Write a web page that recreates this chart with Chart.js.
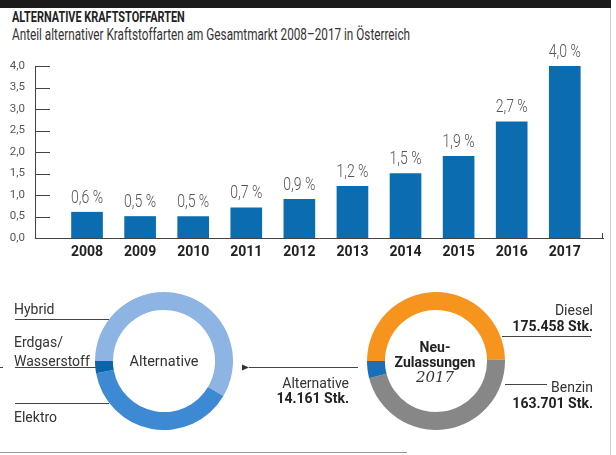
<!DOCTYPE html>
<html>
<head>
<meta charset="utf-8">
<script src="https://cdn.jsdelivr.net/npm/chart.js@4"></script>
<style>
  body { margin: 0; width: 616px; height: 455px; position: relative; background: #fff; overflow: hidden; font-family: Roboto, sans-serif; color: #333; }
  canvas { position: absolute; }
  .t { position: absolute; white-space: nowrap; line-height: 1; transform: translateY(-50%); font-size: 14px; }
  .b { font-weight: bold; color: #222; }
  .fit { transform-origin: 0 50%; }
  #frameTop { position: absolute; left: 0; top: 0; width: 611px; height: 8px; background: #1b1b1b; }
  #frameRight { position: absolute; left: 610px; top: 8px; width: 1px; height: 447px; background: #d0d0d0; }
  #frameBottom { position: absolute; left: 0; top: 452px; width: 407px; height: 1px; background: #999; }
  svg { position: absolute; left: 0; top: 0; }
</style>
</head>
<body>
<div id="frameTop"></div>
<div id="frameRight"></div>
<div id="frameBottom"></div>

<div class="t fit" data-w="173" style="left:12px;top:17px;font:bold 14px Roboto;color:#222">ALTERNATIVE KRAFTSTOFFARTEN</div>
<div class="t fit" data-w="398" style="left:12px;top:34px;font:16px Roboto;color:#333">Anteil alternativer Kraftstoffarten am Gesamtmarkt 2008–2017 in Österreich</div>

<canvas id="bars" width="616" height="230" style="left:0;top:40px"></canvas>
<canvas id="altRing" width="138" height="138" style="left:95px;top:292px"></canvas>
<canvas id="regRing" width="138" height="138" style="left:367px;top:292px"></canvas>

<svg width="616" height="455">
  <defs>
    <marker id="arr" markerWidth="8" markerHeight="8" refX="1" refY="4" orient="auto" markerUnits="userSpaceOnUse">
      <path d="M8,1 L1,4 L8,7 Z" fill="#333"/>
    </marker>
  </defs>
  <g stroke="#444" stroke-width="1">
    <line x1="15" y1="319.5" x2="109" y2="319.5"/>
    <line x1="15" y1="367.5" x2="96" y2="367.5"/>
    <line x1="0" y1="367.5" x2="3" y2="367.5"/>
    <line x1="15" y1="403.5" x2="109" y2="403.5"/>
    <line x1="358" y1="367.5" x2="249" y2="367.5" marker-end="url(#arr)"/>
    <line x1="502" y1="336.5" x2="591" y2="336.5"/>
    <line x1="505" y1="384.5" x2="547" y2="384.5"/>
  </g>
</svg>

<div id="altLabels"></div>
<div class="t" style="left:164px;top:362px;transform:translate(-50%,-50%);font-size:14.5px">Alternative</div>
<div class="t b" style="left:435px;top:347px;transform:translate(-50%,-50%)">Neu-</div>
<div class="t b" style="left:435px;top:362px;transform:translate(-50%,-50%)">Zulassungen</div>
<div class="t" style="left:435px;top:377px;transform:translate(-50%,-50%);font:italic 15px 'DejaVu Serif';color:#333">2017</div>
<div id="regLabels"></div>

<script>
// Anteil alternativer Kraftstoffarten
const years = [2008, 2009, 2010, 2011, 2012, 2013, 2014, 2015, 2016, 2017];
const shares = [0.6, 0.5, 0.5, 0.7, 0.9, 1.2, 1.5, 1.9, 2.7, 4.0];

// Neuzulassungen 2017
const altLabels = ['Hybrid', 'Elektro', 'Erdgas/Wasserstoff'];
const altValues = [8284, 5477, 400];
const regLabels = ['Diesel', 'Benzin', 'Alternative'];
const regValues = [175458, 163701, 14161];

const comma = v => v.toFixed(1).replace('.', ',');

// value labels over the bars + short tick marks on the axes
const barDeco = {
  id: 'barDeco',
  afterDatasetsDraw(chart) {
    const { ctx, chartArea, scales: { y } } = chart;
    ctx.save();
    ctx.strokeStyle = '#444';
    ctx.lineWidth = 1;
    y.ticks.forEach(t => {
      const py = Math.round(y.getPixelForValue(t.value)) + 0.5;
      ctx.beginPath();
      ctx.moveTo(chartArea.left, py);
      ctx.lineTo(chartArea.left + 15, py);
      ctx.stroke();
    });
    // little end tick on the x axis
    const rx = Math.round(chartArea.right) - 0.5;
    ctx.beginPath();
    ctx.moveTo(rx, chartArea.bottom);
    ctx.lineTo(rx, chartArea.bottom - 5);
    ctx.stroke();

    ctx.font = '300 18px Roboto';
    ctx.fillStyle = '#555';
    ctx.textAlign = 'center';
    ctx.textBaseline = 'bottom';
    chart.getDatasetMeta(0).data.forEach((bar, i) => {
      ctx.save();
      ctx.translate(bar.x, bar.y - 5);
      ctx.scale(0.78, 1);
      ctx.fillText(comma(shares[i]) + ' %', 0, 0);
      ctx.restore();
    });
    ctx.restore();
  }
};

new Chart(document.getElementById('bars'), {
  type: 'bar',
  data: {
    datasets: [{
      data: years.map((yr, i) => ({ x: yr, y: shares[i] })),
      backgroundColor: '#0b6cb0',
      barThickness: 31
    }]
  },
  options: {
    responsive: false,
    animation: false,
    layout: { padding: { top: 26, right: 13, bottom: 7, left: 0 } },
    plugins: { legend: { display: false }, tooltip: { enabled: false } },
    scales: {
      x: {
        type: 'linear',
        offset: false,
        min: 2007.02,
        max: 2017.72,
        afterBuildTicks: s => { s.ticks = years.map(v => ({ value: v })); },
        afterFit: s => { s.height = 25; },
        grid: { display: false, drawTicks: false, offset: false },
        border: { color: '#444' },
        ticks: {
          callback: v => String(v),
          color: '#222',
          font: { family: 'Roboto', weight: 'bold', size: 14 },
          padding: 6,
          autoSkip: false,
          maxRotation: 0
        }
      },
      y: {
        min: 0,
        max: 4,
        afterFit: s => { s.width = 35; },
        grid: { display: false, drawTicks: false },
        border: { color: '#444' },
        ticks: {
          stepSize: 0.5,
          callback: v => comma(v),
          color: '#555',
          font: { family: 'Roboto', size: 11.5 },
          padding: 10
        }
      }
    }
  },
  plugins: [barDeco]
});

function ring(id, labels, values, colors) {
  new Chart(document.getElementById(id), {
    type: 'doughnut',
    data: { labels, datasets: [{ data: values, backgroundColor: colors, borderWidth: 0 }] },
    options: {
      responsive: false,
      animation: false,
      rotation: -90,
      cutout: '74%',
      plugins: { legend: { display: false }, tooltip: { enabled: false } }
    }
  });
}
ring('altRing', altLabels, altValues, ['#8db4e2', '#3d89d3', '#0b64a9']);
ring('regRing', regLabels, regValues, ['#f7941d', '#878787', '#1a70b8']);

// text labels next to the rings
const de = v => v.toLocaleString('de-DE') + ' Stk.';
document.getElementById('altLabels').innerHTML =
  `<div class="t" style="left:14px;top:309px">${altLabels[0]}</div>` +
  `<div class="t" style="left:14px;top:342px">${altLabels[2].split('/')[0]}/</div>` +
  `<div class="t" style="left:14px;top:361px">${altLabels[2].split('/')[1]}</div>` +
  `<div class="t" style="left:14px;top:417px">${altLabels[1]}</div>`;
document.getElementById('regLabels').innerHTML =
  `<div class="t" style="right:23px;top:310px">${regLabels[0]}</div>` +
  `<div class="t b" style="right:23px;top:326px">${de(regValues[0])}</div>` +
  `<div class="t" style="right:23px;top:387px">${regLabels[1]}</div>` +
  `<div class="t b" style="right:23px;top:403px">${de(regValues[1])}</div>` +
  `<div class="t" style="right:267px;top:383px">${regLabels[2]}</div>` +
  `<div class="t b" style="right:267px;top:398px">${de(regValues[2])}</div>`;

// squeeze the headline texts to the condensed width of the original
document.querySelectorAll('.fit').forEach(el => {
  const w = +el.dataset.w;
  el.style.transform = `translateY(-50%) scaleX(${w / el.scrollWidth})`;
});
</script>
</body>
</html>
